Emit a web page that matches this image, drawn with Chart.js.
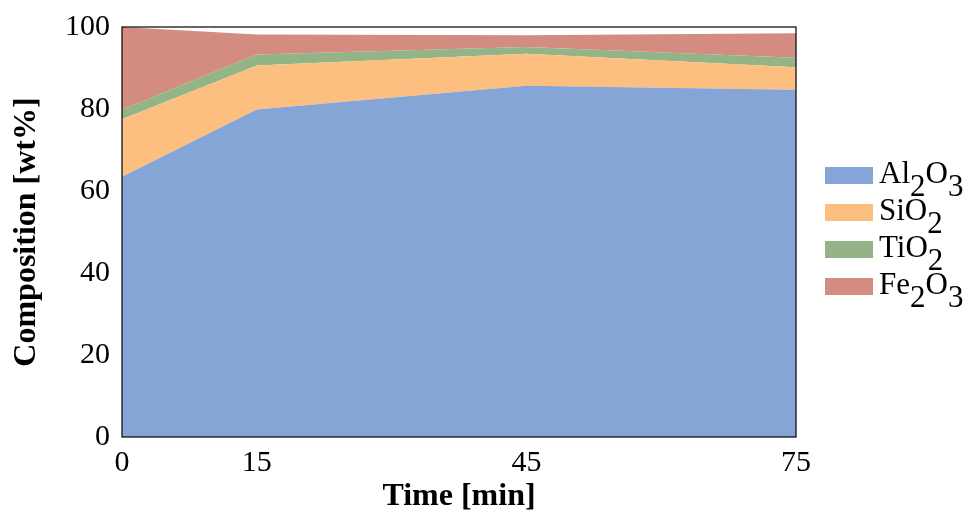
<!DOCTYPE html>
<html>
<head>
<meta charset="utf-8">
<script src="https://cdn.jsdelivr.net/npm/chart.js@4.4.1/dist/chart.umd.min.js"></script>
<style>
  html, body { margin: 0; padding: 0; background: #fff; }
  #wrap { position: relative; width: 968px; height: 516px; }
  #legend {
    position: absolute; left: 825px; top: 155px;
    font-family: "Liberation Serif", "DejaVu Serif", serif; font-size: 31px; color: #000;
  }
  .item { display: flex; align-items: flex-start; height: 37px; }
  .box { width: 48px; height: 17px; margin-top: 12px; margin-right: 6px; flex: none; }
  .item span { white-space: nowrap; }
  .item sub { font-size: 31px; vertical-align: -13px; line-height: 0; }
</style>
</head>
<body>
<div id="wrap">
  <canvas id="chart" width="968" height="516"></canvas>
  <div id="legend"></div>
</div>
<script>
// time points (min)
const times = [0, 15, 45, 75];
const xTicks = [0, 15, 45, 75];
const yTicks = [0, 20, 40, 60, 80, 100];

// composition in wt%, stacked bottom to top
const al2o3 = [63.5, 79.9, 85.7, 84.7];
const sio2  = [14.0, 10.7,  7.8,  5.5];
const tio2  = [ 2.3,  2.7,  1.6,  2.3];
const fe2o3 = [20.2,  4.9,  2.9,  6.0];

const names  = ["Al<sub>2</sub>O<sub>3</sub>", "SiO<sub>2</sub>", "TiO<sub>2</sub>", "Fe<sub>2</sub>O<sub>3</sub>"];
const plain  = ["Al2O3", "SiO2", "TiO2", "Fe2O3"];
const colors = ["#84a5d6", "#fdbf80", "#93b486", "#d48b80"];

const series = [al2o3, sio2, tio2, fe2o3];
const serif = "'Liberation Serif', 'DejaVu Serif', serif";

const datasets = series.map((vals, i) => ({
  label: plain[i],
  data: vals.map((v, j) => ({ x: times[j], y: v })),
  backgroundColor: colors[i],
  borderWidth: 0,
  pointRadius: 0,
  fill: i === 0 ? "origin" : "-1",
  tension: 0
}));

// black frame round the plot area
const frame = {
  id: "frame",
  afterDraw(chart) {
    const a = chart.chartArea, ctx = chart.ctx;
    ctx.save();
    ctx.strokeStyle = "#000";
    ctx.lineWidth = 1.2;
    ctx.strokeRect(a.left, a.top, a.right - a.left, a.bottom - a.top);
    ctx.restore();
  }
};

new Chart(document.getElementById("chart"), {
  type: "line",
  data: { datasets },
  plugins: [frame],
  options: {
    responsive: false,
    animation: false,
    layout: { padding: { top: 27, right: 172, left: 0, bottom: 0 } },
    plugins: { legend: { display: false }, tooltip: { enabled: false } },
    scales: {
      x: {
        type: "linear", min: 0, max: 75,
        afterBuildTicks: s => { s.ticks = xTicks.map(v => ({ value: v })); },
        afterFit: s => { s.height = 79; },
        grid: { display: false },
        border: { display: false },
        ticks: { color: "#000", font: { family: serif, size: 30 }, padding: 0, maxRotation: 0 },
        title: { display: true, text: "Time [min]", color: "#000",
                 font: { family: serif, size: 32, weight: "bold" }, padding: { top: 0, bottom: 0 } }
      },
      y: {
        stacked: true, min: 0, max: 100,
        afterBuildTicks: s => { s.ticks = yTicks.map(v => ({ value: v })); },
        afterFit: s => { s.width = 122; },
        grid: { display: false },
        border: { display: false },
        ticks: { color: "#000", font: { family: serif, size: 30 }, padding: 4 },
        title: { display: true, text: "Composition [wt%]", color: "#000",
                 font: { family: serif, size: 32, weight: "bold" }, padding: { top: 8, bottom: 0 } }
      }
    }
  }
});

const legend = document.getElementById("legend");
names.forEach((n, i) => {
  const row = document.createElement("div");
  row.className = "item";
  row.innerHTML = '<div class="box" style="background:' + colors[i] + '"></div><span>' + n + '</span>';
  legend.appendChild(row);
});
</script>
</body>
</html>
